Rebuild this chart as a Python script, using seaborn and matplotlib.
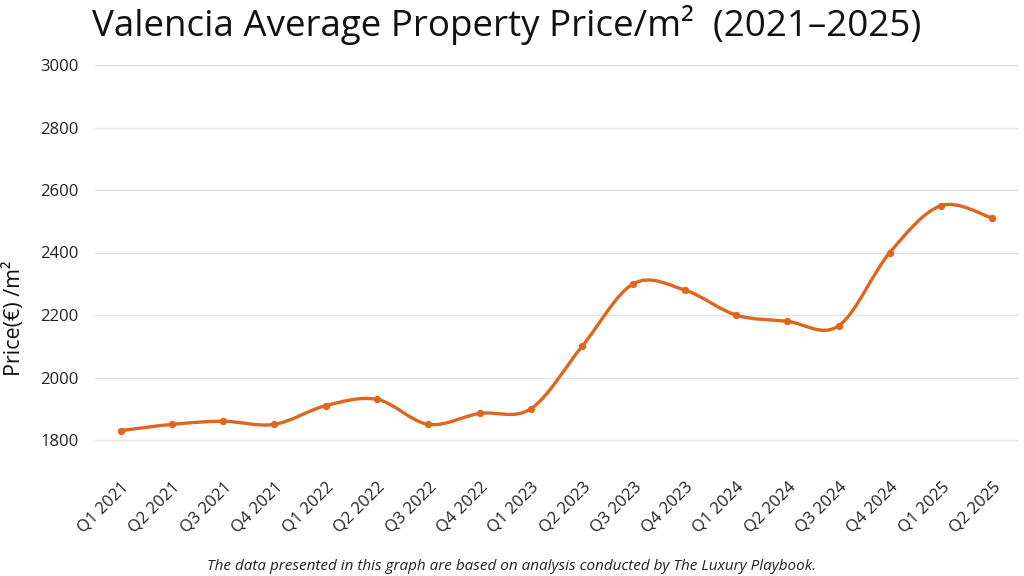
import numpy as np
import pandas as pd
import seaborn as sns
import matplotlib
matplotlib.use("Agg")
import matplotlib.pyplot as plt
from matplotlib.path import Path
from matplotlib.patches import PathPatch
from matplotlib.transforms import ScaledTranslation

quarters = ["Q1 2021", "Q2 2021", "Q3 2021", "Q4 2021",
            "Q1 2022", "Q2 2022", "Q3 2022", "Q4 2022",
            "Q1 2023", "Q2 2023", "Q3 2023", "Q4 2023",
            "Q1 2024", "Q2 2024", "Q3 2024", "Q4 2024",
            "Q1 2025", "Q2 2025"]
prices = [1830, 1850, 1860, 1850,
          1910, 1930, 1850, 1885,
          1900, 2100, 2300, 2280,
          2200, 2180, 2165, 2400,
          2550, 2510]
y_ticks = [1800, 2000, 2200, 2400, 2600, 2800, 3000]

LINE = "#DE661D"
FONT = ["Open Sans", "DejaVu Sans"]

sns.set_theme(style="white")
plt.rcParams["font.family"] = FONT

df = pd.DataFrame({"quarter": quarters, "price": prices})
df["pos"] = np.arange(len(df))

fig = plt.figure(figsize=(10.24, 5.76), dpi=100)
ax = fig.add_axes([95 / 1024, 1 - 440 / 576, 923 / 1024, 375 / 576])

# smooth curve (Catmull-Rom style Bezier through the data points)
x = df["pos"].to_numpy(dtype=float)
y = df["price"].to_numpy(dtype=float)
xp = np.concatenate([[x[0]], x, [x[-1]]])
yp = np.concatenate([[y[0]], y, [y[-1]]])
verts = [(x[0], y[0])]
codes = [Path.MOVETO]
for i in range(len(x) - 1):
    j = i + 1
    c1 = (xp[j] + (xp[j + 1] - xp[j - 1]) / 6, yp[j] + (yp[j + 1] - yp[j - 1]) / 6)
    c2 = (xp[j + 1] - (xp[j + 2] - xp[j]) / 6, yp[j + 1] - (yp[j + 2] - yp[j]) / 6)
    verts += [c1, c2, (x[i + 1], y[i + 1])]
    codes += [Path.CURVE4] * 3
ax.add_patch(PathPatch(Path(verts, codes), facecolor="none", edgecolor=LINE,
                       lw=2.4, capstyle="round", joinstyle="round", zorder=3))

sns.scatterplot(data=df, x="pos", y="price", ax=ax, color=LINE, s=28,
                edgecolor=LINE, linewidth=0, zorder=4, legend=False)

ax.set_xlim(-0.5, len(quarters) - 0.5)
ax.set_ylim(1800, 3000)
ax.set_yticks(y_ticks)
ax.set_yticklabels([str(v) for v in y_ticks], fontsize=12, color="#222222")
ax.set_xticks(df["pos"])
ax.set_xticklabels(quarters, rotation=45, ha="right", rotation_mode="anchor",
                   fontsize=12, color="#222222")
shift = ScaledTranslation(7 / 100, 0, fig.dpi_scale_trans)
for lab in ax.get_xticklabels():
    lab.set_transform(lab.get_transform() + shift)
ax.tick_params(axis="x", length=0, pad=28)
ax.tick_params(axis="y", length=0, pad=12)
ax.grid(axis="y", color="#E4E4E4", lw=1)
ax.grid(axis="x", visible=False)
for gl in ax.get_ygridlines():
    gl.set_clip_on(False)
for s in ax.spines.values():
    s.set_visible(False)
ax.set_xlabel("")
ax.set_ylabel("")
ax.set_axisbelow(True)

fig.text(92 / 1024, 1 - 25 / 576, "Valencia Average Property Price/m²  (2021–2025)",
         fontsize=26.5, ha="left", va="center", color="#111111")
fig.text(14 / 1024, 1 - 318 / 576, "Price(€) /m²", rotation=90, fontsize=15.5,
         ha="center", va="center", color="#111111")
fig.text(0.5, 1 - 566 / 576,
         "The data presented in this graph are based on analysis conducted by The Luxury Playbook.",
         fontsize=11, style="italic", ha="center", va="center", color="#222222")

fig.savefig("out.png", dpi=100, facecolor="white")
